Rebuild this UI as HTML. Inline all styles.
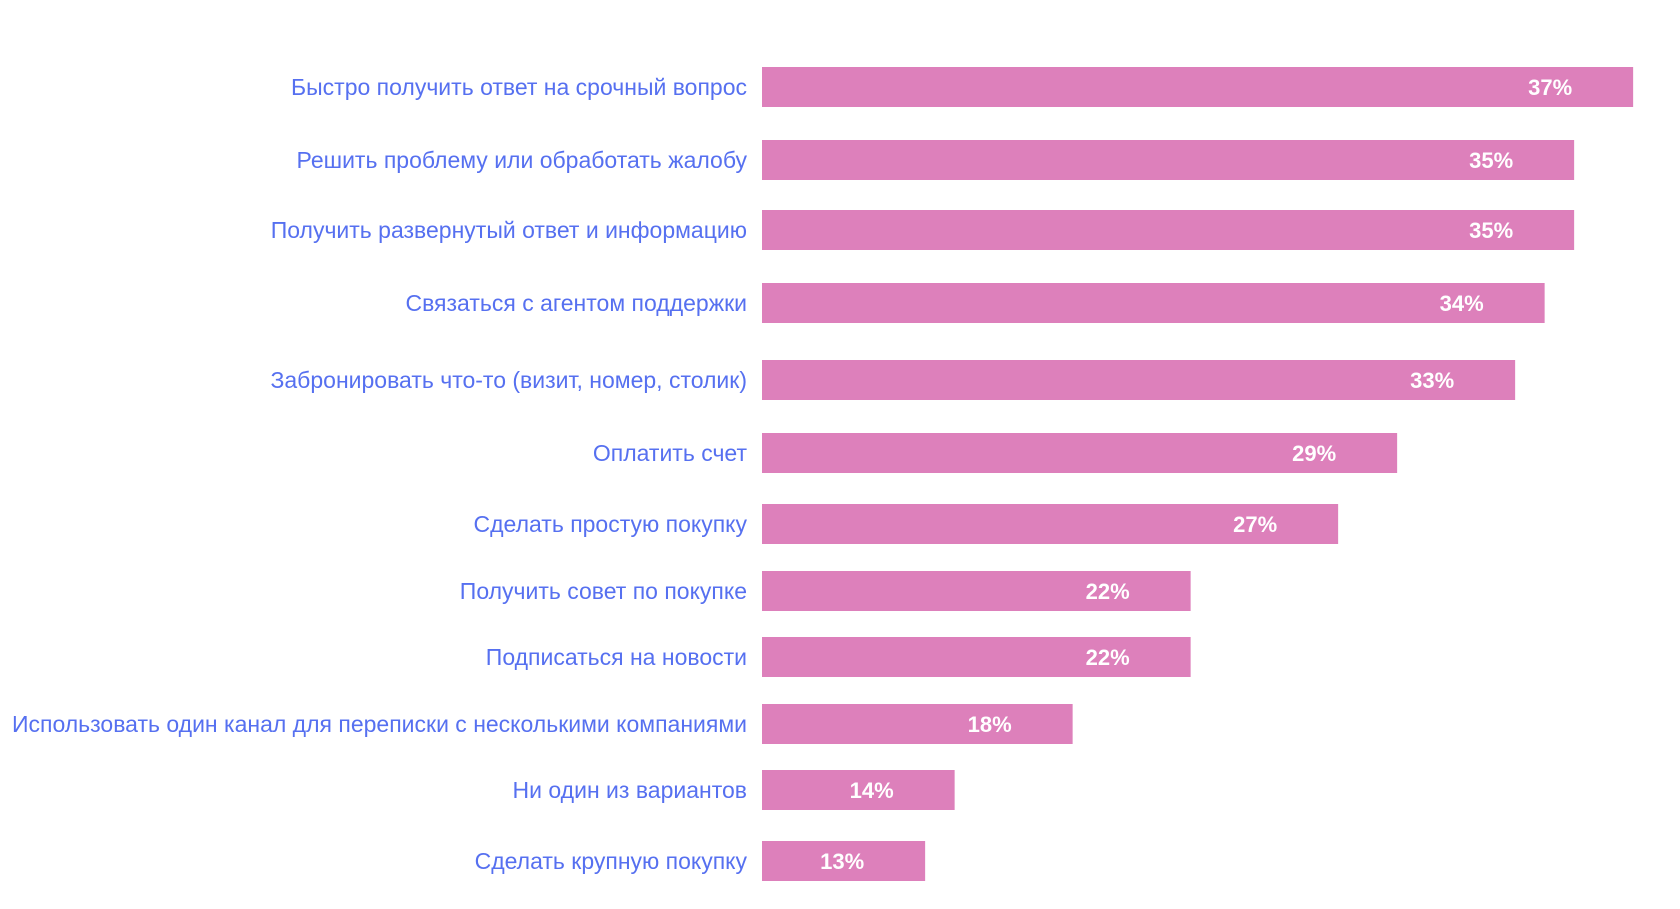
<!DOCTYPE html>
<html><head><meta charset="utf-8"><style>
body{margin:0;background:#fff;width:1680px;height:904px;overflow:hidden}
svg text{font-family:"Liberation Sans","DejaVu Sans",sans-serif}
</style></head><body>
<svg id="chart" width="1680" height="904" xmlns="http://www.w3.org/2000/svg"></svg>
<script>
const categories=["Быстро получить ответ на срочный вопрос","Решить проблему или обработать жалобу","Получить развернутый ответ и информацию","Связаться с агентом поддержки","Забронировать что-то (визит, номер, столик)","Оплатить счет","Сделать простую покупку","Получить совет по покупке","Подписаться на новости","Использовать один канал для переписки с несколькими компаниями","Ни один из вариантов","Сделать крупную покупку"];
const values=[37,35,35,34,33,29,27,22,22,18,14,13];
const valueLabels=["37%","35%","35%","34%","33%","29%","27%","22%","22%","18%","14%","13%"];
const rowCenters=[87,160,230,303,380,453,524,591,657,724,790,861];
const svg=document.getElementById('chart');
const NS='http://www.w3.org/2000/svg';
const x0=762, dMin=7.47, pxPer=29.5;
function xs(v){return x0+(v-dMin)*pxPer;}
categories.forEach((c,i)=>{
  const cy=rowCenters[i];
  const r=document.createElementNS(NS,'rect');
  r.setAttribute('x',x0);r.setAttribute('y',cy-20);
  r.setAttribute('width',xs(values[i])-x0);r.setAttribute('height',40);
  r.setAttribute('fill','#dd80bb');
  
  
  svg.appendChild(r);
  const t=document.createElementNS(NS,'text');
  t.setAttribute('x',747);t.setAttribute('y',cy+8);
  t.setAttribute('text-anchor','end');t.setAttribute('font-size','23');
  t.setAttribute('fill','#5670f0');
  t.textContent=c;
  
  
  svg.appendChild(t);
  const v=document.createElementNS(NS,'text');
  v.setAttribute('x',xs(values[i])-83);v.setAttribute('y',cy+8);
  v.setAttribute('text-anchor','middle');v.setAttribute('font-size','22');
  v.setAttribute('font-weight','bold');
  v.setAttribute('fill','#ffffff');
  v.textContent=valueLabels[i];
  
  
  svg.appendChild(v);
});
</script>
</body></html>
